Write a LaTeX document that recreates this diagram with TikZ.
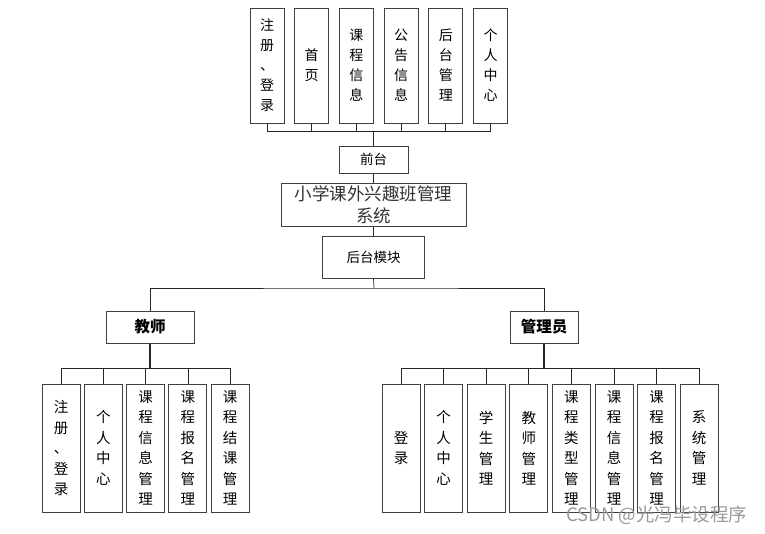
\documentclass[tikz,border=0pt]{standalone}
\usepackage{fontspec}
\setmainfont{Noto Sans CJK SC}
\usepackage{tikz}
\usetikzlibrary{positioning}

\begin{document}
\begin{tikzpicture}[x=1pt, y=-1pt, semithick]
\tikzstyle{box}=[draw=black!75, line width=1pt, fill=white, inner sep=0pt, align=center]
\tikzstyle{topbox}=[box, minimum width=34pt, minimum height=115pt, font=\fontsize{14}{20}\selectfont]
\tikzstyle{subbox}=[box, minimum width=38pt, minimum height=128pt, font=\fontsize{14.5}{20.5}\selectfont]
\tikzstyle{link}=[draw=black!85, line width=0.7pt]
\tikzstyle{trunk}=[draw=black!85, line width=1.2pt]
\useasboundingbox (0,0) rectangle (765,533);

% front modules
\node[topbox]    (t1) at (267,65.5)   {注\\册\\、\\登\\录};
\node[topbox]    (t2)[right of=t1, node distance=44.7pt]   {首\\页};
\node[topbox]    (t3)[right of=t2, node distance=44.7pt]   {课\\程\\信\\息};
\node[topbox]    (t4)[right of=t3, node distance=44.7pt]   {公\\告\\信\\息};
\node[topbox]    (t5)[right of=t4, node distance=44.7pt]   {后\\台\\管\\理};
\node[topbox]    (t6)[right of=t5, node distance=44.7pt]   {个\\人\\中\\心};

% main column
\node[box, minimum width=69pt, minimum height=27pt, font=\fontsize{13.5}{15}\selectfont]    (front) at (373.5,159.5)   {前台};
\node[box, minimum width=185pt, minimum height=43pt, font=\fontsize{17.5}{22}\selectfont, text=black!80]    (sys)[below of=front, node distance=45pt]   {小学课外兴趣班管理\\系统};
\node[box, minimum width=102pt, minimum height=42pt, font=\fontsize{13.5}{15}\selectfont]    (back)[below of=sys, node distance=52.5pt]   {后台模块};

% roles
\node[box, minimum width=88pt, minimum height=32pt, font=\fontsize{15.5}{17}\selectfont\bfseries]    (teacher) at (150,327)   {教师};
\node[box, minimum width=68pt, minimum height=32pt, font=\fontsize{15.5}{17}\selectfont\bfseries]    (admin) at (544,327)   {管理员};

% teacher modules
\node[subbox]    (a1) at (61,448)   {注\\册\\、\\登\\录};
\node[subbox]    (a2)[right of=a1, node distance=42.3pt]   {个\\人\\中\\心};
\node[subbox]    (a3)[right of=a2, node distance=42.3pt]   {课\\程\\信\\息\\管\\理};
\node[subbox]    (a4)[right of=a3, node distance=42.3pt]   {课\\程\\报\\名\\管\\理};
\node[subbox]    (a5)[right of=a4, node distance=42.3pt]   {课\\程\\结\\课\\管\\理};

% admin modules
\node[subbox]    (b1) at (401,448)   {登\\录};
\node[subbox]    (b2)[right of=b1, node distance=42.6pt]   {个\\人\\中\\心};
\node[subbox]    (b3)[right of=b2, node distance=42.6pt]   {学\\生\\管\\理};
\node[subbox]    (b4)[right of=b3, node distance=42.6pt]   {教\\师\\管\\理};
\node[subbox]    (b5)[right of=b4, node distance=42.6pt]   {课\\程\\类\\型\\管\\理};
\node[subbox]    (b6)[right of=b5, node distance=42.6pt]   {课\\程\\信\\息\\管\\理};
\node[subbox]    (b7)[right of=b6, node distance=42.6pt]   {课\\程\\报\\名\\管\\理};
\node[subbox]    (b8)[right of=b7, node distance=42.6pt]   {系\\统\\管\\理};

% bus points
\coordinate (fb) at (373.5,131);
\coordinate (bb) at (374,288);
\coordinate (tb) at (150,368);
\coordinate (ab) at (544,368);

\foreach \i in {1,...,6}
  \draw[link] (t\i.south) |- (fb);
\draw[trunk] (fb) -- (front.north);
\draw[link] (front.south) -- (sys.north);
\draw[link] (sys.south) -- (back.north);
\draw[link] (back.south) -- (bb);
\draw[link] (teacher.north) |- (bb) -| (admin.north);

\draw[trunk] (teacher.south) -- (tb);
\foreach \i in {1,...,5}
  \draw[link] (a\i.north) |- (tb);
\draw[trunk] (admin.south) -- (ab);
\foreach \i in {1,...,8}
  \draw[link] (b\i.north) |- (ab);

% watermark
\node[text=black!40, font=\fontsize{18.5}{20}\selectfont, anchor=east]    (mark) at (751,515)   {CSDN @光冯毕设程序};

\end{tikzpicture}
\end{document}
